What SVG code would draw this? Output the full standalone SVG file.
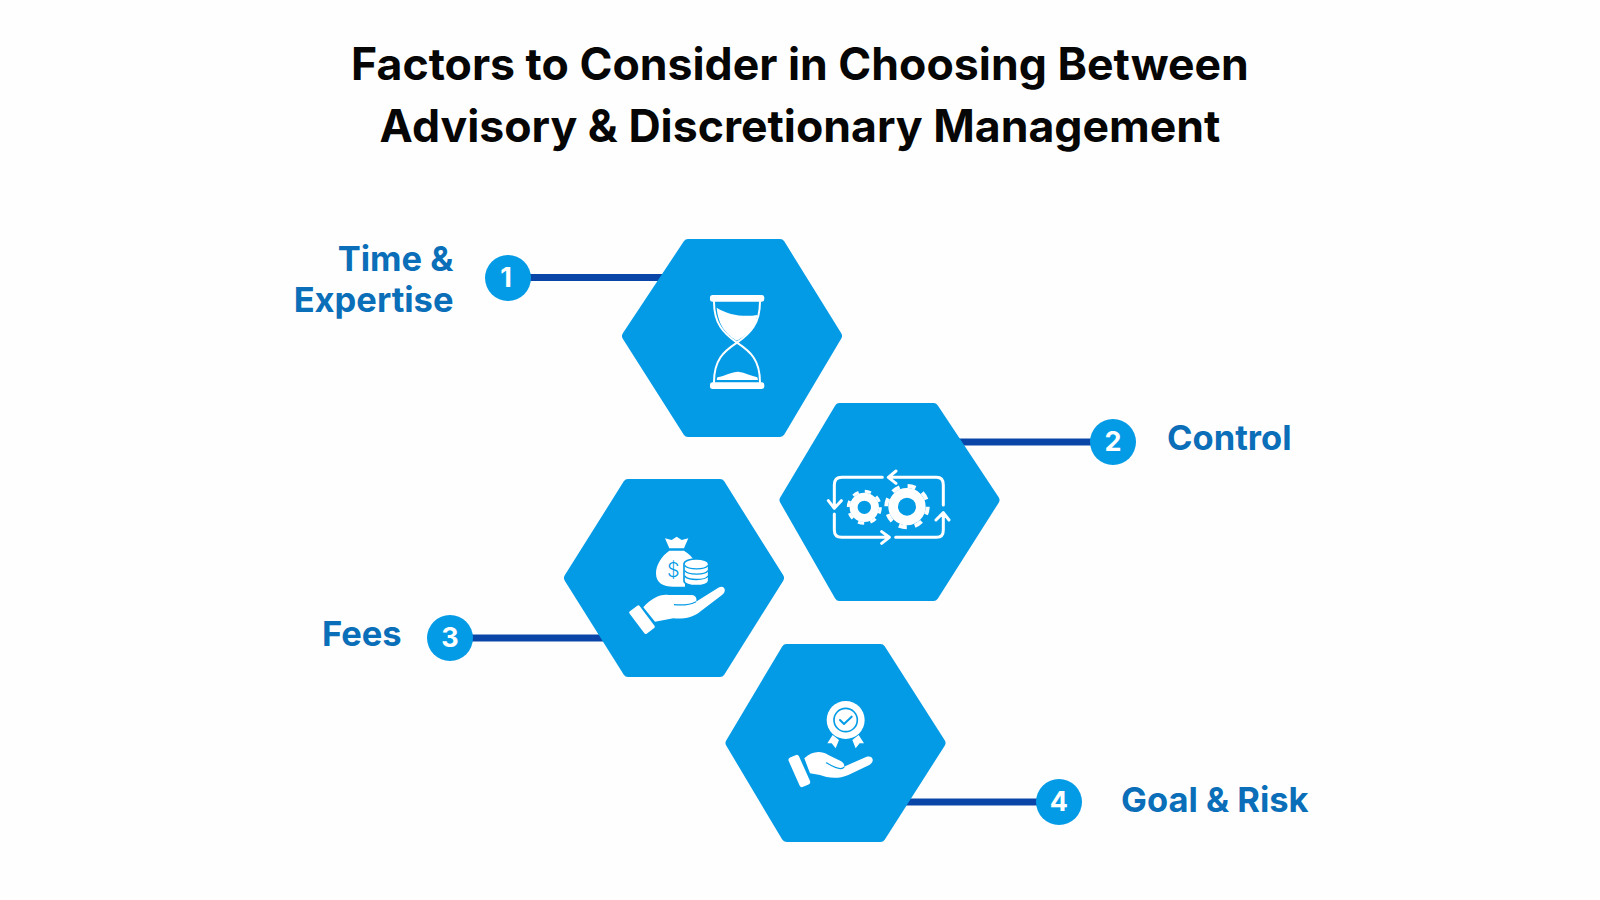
<svg xmlns="http://www.w3.org/2000/svg" width="1600" height="900" viewBox="0 0 1600 900">
<defs>
<style>
.title{font:700 44.600px Inter,"Liberation Sans",sans-serif;fill:#060606;text-anchor:middle}
.label{font:700 34.500px Inter,"Liberation Sans",sans-serif;fill:#0a6eb8}
.num{font:700 27px Inter,"Liberation Sans",sans-serif;fill:#fff;text-anchor:middle}
.hex{fill:#049be6;stroke:#049be6;stroke-width:10;stroke-linejoin:round}
.badge{fill:#049be6}
.conn{stroke:#0a46a8;stroke-width:7;fill:none}
.w{fill:#fff}
.b{fill:none;stroke:#049be6}
.ln{fill:none;stroke:#fff;stroke-linecap:round;stroke-linejoin:round}
</style>
</defs>
<rect width="1600" height="900" fill="#fefefe"/>
<text class="title" x="800" y="80">Factors to Consider in Choosing Between</text>
<text class="title" x="800" y="142">Advisory &amp; Discretionary Management</text>
<g id="connectors">
<line class="conn" x1="530" y1="277.500" x2="668" y2="277.500"/>
<line class="conn" x1="955" y1="442" x2="1113" y2="442"/>
<line class="conn" x1="450" y1="638" x2="608" y2="638"/>
<line class="conn" x1="902" y1="802" x2="1059" y2="802"/>
</g>
<g id="node1">
<polygon class="hex" transform="translate(732,338)" points="-105,-2 -44,-94 48,-94 105,-2 48,94 -44,94"/>
<g transform="translate(600,220) scale(.3333)">
<rect class="w" x="330" y="225" width="163" height="20" rx="8"/>
<rect class="w" x="330" y="487" width="163" height="20" rx="8"/>
<path class="ln" stroke-width="6" d="M342 245C342 310 370 340 411 368C452 340 480 310 480 245M342 487C342 420 370 395 411 368C452 395 480 420 480 487"/>
<path class="w" d="M350 263C385 285 430 292 472 285C468 325 440 345 411 362C382 345 355 320 350 263Z"/>
<path class="w" d="M350 480L352 472C375 468 395 455 415 455C435 458 455 468 472 472L474 480Z"/>
</g>
</g>
<g id="node2">
<polygon class="hex" transform="translate(889.500,502)" points="-105,-2 -50,-94 44,-94 105,-2 44,94 -50,94"/>
<g transform="translate(800,450) scale(.3333)">
<path class="ln" stroke-width="9" d="M247 82H125Q103 82 103 105V172M85 152L103 175L124 152M103 192V240Q103 262 125 262H267M245 245L268 262L245 280M287 262H410Q430 262 430 240V190M408 210L430 188L447 210M430 165V105Q430 82 410 82H268M288 63L265 82L288 100"/>
<circle cx="321" cy="170" r="41.500" fill="none" stroke="#fff" stroke-width="29"/>
<circle cx="321" cy="170" r="62" fill="none" stroke="#fff" stroke-width="12" stroke-dasharray="24.350 24.350"/>
<circle cx="193" cy="172" r="32" fill="none" stroke="#fff" stroke-width="24"/>
<circle cx="193" cy="172" r="48" fill="none" stroke="#fff" stroke-width="9" stroke-dasharray="18.850 18.850"/>
</g>
</g>
<g id="node3">
<polygon class="hex" transform="translate(674,578)" points="-105,0 -46,-94 46,-94 105,0 46,94 -46,94"/>
<g transform="translate(610,520) scale(.3333)">
<path class="w" d="M165 55L185 60L200 50L215 60L235 55L222 85H178Z"/>
<path class="w" d="M178 92H222C238 102 248 112 252 122L225 130V200H190C160 200 138 190 138 160C138 135 155 108 178 92Z"/>
<path class="w" d="M222 132C222 112 296 112 296 132V182C296 202 222 202 222 182Z" stroke="#049be6" stroke-width="5"/>
<path class="b" stroke-width="4" d="M224 136C235 150 285 150 294 136M224 152C235 166 285 166 294 152M224 168C235 182 285 182 294 168"/>
<text x="190" y="171" font-family="Inter,'Liberation Sans',sans-serif" font-size="60" font-weight="300" fill="#049be6" text-anchor="middle">$</text>
<rect class="w" x="-19" y="-42" width="38" height="84" rx="5" transform="translate(96,299) rotate(-37)"/>
<path class="w" d="M100 262C125 235 150 222 175 225H245C258 225 262 238 258 245L325 203C345 193 352 215 335 226L270 275C250 292 220 298 190 295L135 305Z"/>
<path class="b" stroke-width="3.500" d="M192 254C215 256 240 255 258 245"/>
</g>
</g>
<g id="node4">
<polygon class="hex" transform="translate(835.500,743)" points="-105,0 -49,-94 45,-94 105,0 45,94 -49,94"/>
<g transform="translate(770,690) scale(.3333)">
<circle class="w" cx="227" cy="90" r="57"/>
<circle class="b" cx="227" cy="90" r="35" stroke-width="5"/>
<path class="b" stroke-width="6" stroke-linecap="round" stroke-linejoin="round" d="M210 90L222 102L245 80"/>
<polygon class="w" points="188,135 207,150 197,175 185,160 172,160"/>
<polygon class="w" points="266,135 247,150 257,175 269,160 282,160"/>
<rect class="w" x="-17" y="-48" width="34" height="96" rx="8" transform="translate(88,243) rotate(-24)"/>
<path class="w" d="M103 205C125 185 150 180 175 195L212 213C222 218 224 226 222 230L290 200C310 195 315 215 298 225L235 255C200 270 170 262 150 255L120 250Z"/>
<path class="b" stroke-width="3.500" d="M168 218C185 228 200 237 212 236C218 235 222 232 222 230"/>
</g>
</g>
<g id="badges">
<g id="badge1"><circle class="badge" cx="508" cy="278" r="23"/><text class="num" x="506" y="287">1</text></g>
<g id="badge2"><circle class="badge" cx="1113" cy="442" r="23"/><text class="num" x="1113" y="451">2</text></g>
<g id="badge3"><circle class="badge" cx="450" cy="638" r="23"/><text class="num" x="450" y="647">3</text></g>
<g id="badge4"><circle class="badge" cx="1059" cy="802" r="23"/><text class="num" x="1059" y="811">4</text></g>
</g>
<g id="labels">
<text class="label" x="453.500" y="271" text-anchor="end">Time &amp;</text>
<text class="label" x="453.500" y="312" text-anchor="end">Expertise</text>
<text class="label" x="1167" y="450">Control</text>
<text class="label" x="322" y="646">Fees</text>
<text class="label" x="1121" y="812">Goal &amp; Risk</text>
</g>
</svg>
